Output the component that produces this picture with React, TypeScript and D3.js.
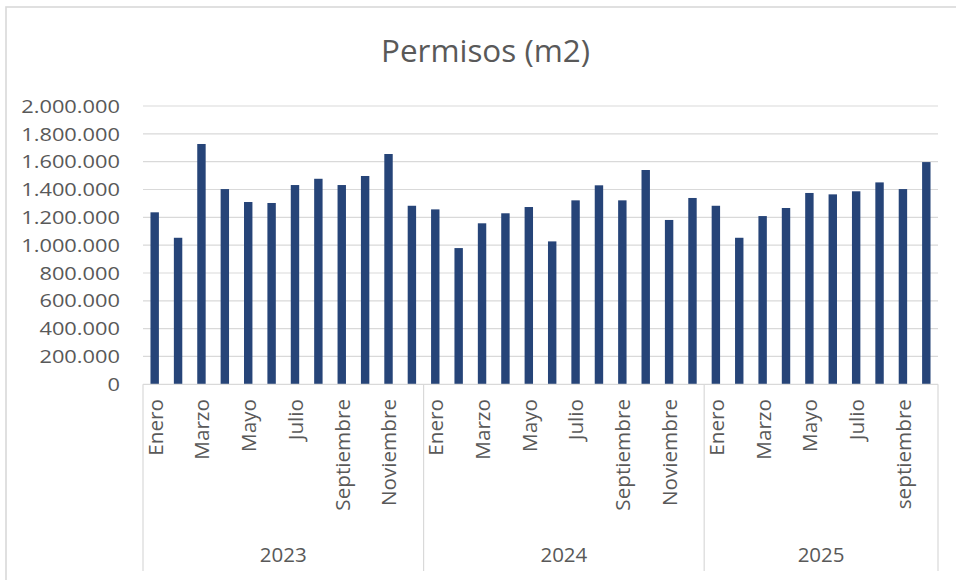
import React from "react";
import * as d3 from "d3";

const title = "Permisos (m2)";
const years = ["2023", "2024", "2025"];
const months2023 = ["Enero", "Febrero", "Marzo", "Abril", "Mayo", "Junio", "Julio", "Agosto", "Septiembre", "Octubre", "Noviembre", "Diciembre"];
const months2024 = ["Enero", "Febrero", "Marzo", "Abril", "Mayo", "Junio", "Julio", "Agosto", "Septiembre", "Octubre", "Noviembre", "Diciembre"];
const months2025 = ["Enero", "Febrero", "Marzo", "Abril", "Mayo", "Junio", "Julio", "Agosto", "septiembre", "Octubre"];
const values2023 = [1236000, 1053000, 1727000, 1403000, 1310000, 1303000, 1432000, 1477000, 1432000, 1497000, 1655000, 1283000];
const values2024 = [1257000, 979000, 1157000, 1229000, 1274000, 1027000, 1322000, 1430000, 1322000, 1540000, 1181000, 1339000];
const values2025 = [1283000, 1053000, 1209000, 1267000, 1375000, 1365000, 1387000, 1451000, 1403000, 1597000];
const yTicks = [0, 200000, 400000, 600000, 800000, 1000000, 1200000, 1400000, 1600000, 1800000, 2000000];

const W = 956;
const H = 580;
const FONT = "'Open Sans', sans-serif";
const TEXT = "#595959";
const GRID = "#d9d9d9";
const BAR = "#264478";

export default function App() {
  const monthsByYear = [months2023, months2024, months2025];
  const valuesByYear = [values2023, values2024, values2025];
  const rows = years.flatMap((y, yi) =>
    monthsByYear[yi].map((m, mi) => ({ key: `${y}-${mi}`, year: y, month: m, idx: mi, value: valuesByYear[yi][mi] }))
  );

  const left = 143;
  const right = 938;
  const top = 106;
  const bottom = 384.3;

  const x = d3
    .scaleBand<string>()
    .domain(rows.map((r) => r.key))
    .range([left, right])
    .paddingInner(0.64)
    .paddingOuter(0.32);
  const y = d3.scaleLinear().domain([0, 2000000]).range([bottom, top]);
  const step = x.step();

  const fmt = d3.formatLocale({ decimal: ",", thousands: ".", grouping: [3], currency: ["", ""] }).format(",");

  const groupStarts: number[] = [];
  let acc = 0;
  years.forEach((_, yi) => {
    groupStarts.push(acc);
    acc += monthsByYear[yi].length;
  });
  const boundaries = [...groupStarts, acc].map((i) => left + i * step);

  return (
    <svg width={W} height={H} style={{ position: "absolute", left: 0, top: 0, background: "#fff" }}>
      <rect x={6} y={7} width={W + 20} height={H + 20} fill="#fff" stroke={GRID} strokeWidth={1.6} />
      <text
        transform="translate(485.5,62) scale(1.03,1)"
        textAnchor="middle"
        fontFamily={FONT}
        fontSize={30.5}
        fill={TEXT}
      >
        {title}
      </text>

      {yTicks.map((t) => (
        <g key={t}>
          {t > 0 && <line x1={left} x2={right} y1={y(t)} y2={y(t)} stroke={GRID} strokeWidth={1.2} />}
          <text
            transform={`translate(120,${y(t)}) scale(1.18,1)`}
            dy="0.36em"
            textAnchor="end"
            fontFamily={FONT}
            fontSize={18.5}
            fill={TEXT}
          >
            {fmt(t)}
          </text>
        </g>
      ))}

      {rows.map((r) => (
        <rect key={r.key} x={x(r.key)} y={y(r.value)} width={x.bandwidth()} height={bottom - y(r.value)} fill={BAR} />
      ))}

      <line x1={left} x2={right} y1={bottom} y2={bottom} stroke={GRID} strokeWidth={1.2} />
      {boundaries.map((bx, i) => (
        <line key={i} x1={bx} x2={bx} y1={bottom} y2={571} stroke={GRID} strokeWidth={1.2} />
      ))}

      {rows
        .filter((r) => r.idx % 2 === 0)
        .map((r) => {
          const cx = (x(r.key) as number) + x.bandwidth() / 2;
          return (
            <text
              key={"l" + r.key}
              transform={`translate(${cx},399) rotate(-90)`}
              dy="0.38em"
              textAnchor="end"
              fontFamily={FONT}
              fontSize={20.7}
              fill={TEXT}
            >
              {r.month}
            </text>
          );
        })}

      {years.map((yr, yi) => (
        <text
          key={yr}
          x={(boundaries[yi] + boundaries[yi + 1]) / 2}
          y={562}
          textAnchor="middle"
          fontFamily={FONT}
          fontSize={20.5}
          fill={TEXT}
        >
          {yr}
        </text>
      ))}
    </svg>
  );
}
